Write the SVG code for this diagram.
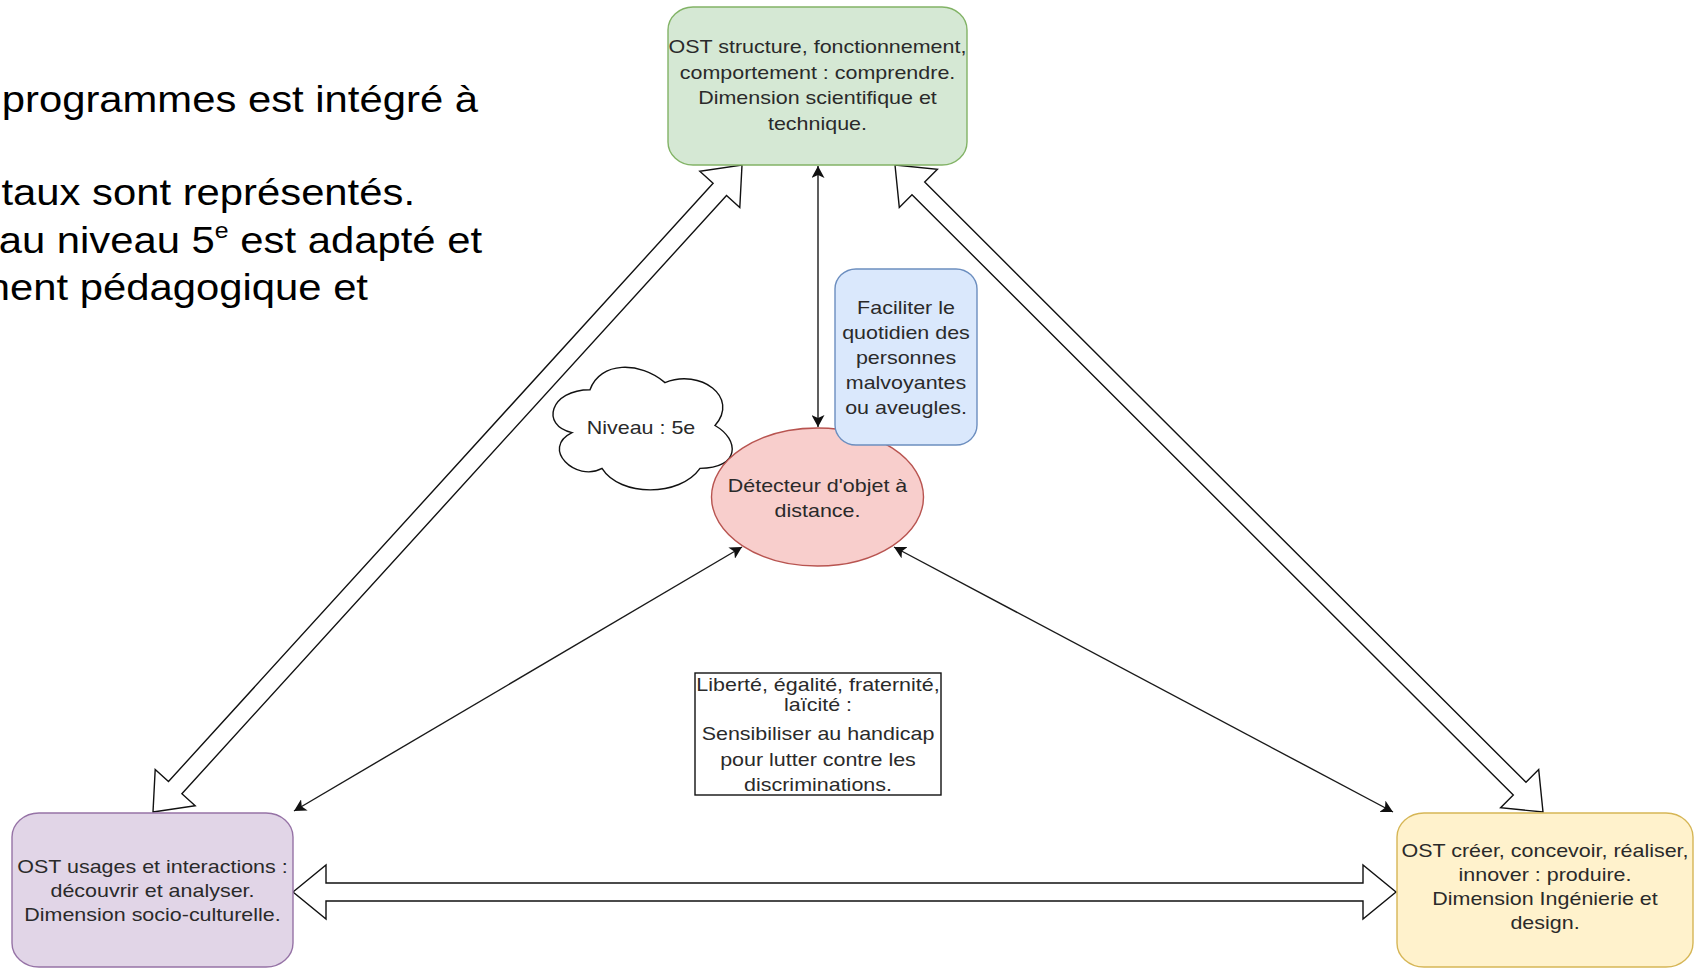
<svg xmlns="http://www.w3.org/2000/svg" width="1698" height="969" viewBox="0 0 1698 969">
  <style>
    .lbl { font-family: "Liberation Sans", Arial, sans-serif; font-size: 19px; fill: #2a2a2a; text-anchor: middle; }
    .para { font-family: "Liberation Sans", Arial, sans-serif; font-size: 37px; fill: #000; text-anchor: end; }
    .block { fill: #fff; stroke: #111; stroke-width: 1.4; stroke-linejoin: miter; }
    .thin { fill: none; stroke: #1a1a1a; stroke-width: 1.4; marker-start: url(#head); marker-end: url(#head); }
  </style>
  <defs>
    <marker id="head" viewBox="0 0 13 13" refX="12" refY="6.5" markerWidth="13" markerHeight="13" markerUnits="userSpaceOnUse" orient="auto-start-reverse">
      <path d="M0,0 L12,6.5 L0,13 L3,6.5 Z" fill="#111"/>
    </marker>
  </defs>

  <rect width="1698" height="969" fill="#fff"/>

  <!-- paragraph text running off the left edge -->
  <g id="paragraph">
    <text class="para" transform="translate(478 0) scale(1.13 1)" x="0" y="112">programmes est intégré à</text>
    <text class="para" transform="translate(415 0) scale(1.13 1)" x="0" y="205">taux sont représentés.</text>
    <text class="para" transform="translate(482 0) scale(1.13 1)" x="0" y="253">au niveau 5<tspan font-size="22" dy="-15">e</tspan><tspan dy="15"> est adapté et</tspan></text>
    <text class="para" transform="translate(368 0) scale(1.13 1)" x="0" y="300">nent pédagogique et</text>
  </g>

  <!-- connectors -->
  <g id="connectors">
    <!-- double block arrows between the three OST boxes -->
    <polygon class="block" points="153,812 195.2,805.8 181.9,793.7 726.5,195.5 739.8,207.6 742,165 699.8,171.2 713.1,183.3 168.5,781.5 155.2,769.4"/>
    <polygon class="block" points="895,165 899.3,207.4 912,194.7 1513.3,795.1 1500.6,807.8 1543,812 1538.7,769.6 1526,782.3 924.7,182 937.4,169.2"/>
    <polygon class="block" points="293,892 326,865 326,883 1363,883 1363,865 1396,892 1363,919 1363,901 326,901 326,919"/>
    <!-- thin double arrows around the central object -->
    <line class="thin" x1="818" y1="166" x2="818" y2="427"/>
    <line class="thin" x1="742" y1="547" x2="294" y2="811"/>
    <line class="thin" x1="894" y1="547" x2="1393" y2="812"/>
  </g>

  <g id="niveau">
    <path d="M590,389.75 C550,389.75 540,425.5 572,432.65 C540,448.38 576,482.7 602,468.4 C620,497 680,497 700,468.4 C740,468.4 740,439.8 715,425.5 C740,396.9 700,368.3 665,382.6 C640,361.15 600,361.15 590,389.75 Z" fill="#fff" stroke="#111" stroke-width="1.4"/>
    <text class="lbl" transform="translate(641 0) scale(1.13 1)" x="0" y="434">Niveau : 5e</text>
  </g>

  <g id="detecteur">
    <ellipse cx="817.5" cy="497" rx="106" ry="69" fill="#f8cecc" stroke="#b85450" stroke-width="1.4"/>
    <text class="lbl" transform="translate(817.5 0) scale(1.13 1)"><tspan x="0" y="492">Détecteur d'objet à</tspan><tspan x="0" y="517">distance.</tspan></text>
  </g>

  <g id="objectif">
    <rect x="835" y="269" width="142" height="176" rx="21" ry="20" fill="#dae8fc" stroke="#6c8ebf" stroke-width="1.4"/>
    <text class="lbl" transform="translate(906 0) scale(1.13 1)"><tspan x="0" y="314">Faciliter le</tspan><tspan x="0" y="339">quotidien des</tspan><tspan x="0" y="364">personnes</tspan><tspan x="0" y="389">malvoyantes</tspan><tspan x="0" y="414">ou aveugles.</tspan></text>
  </g>

  <g id="ost-comprendre">
    <rect x="668" y="7" width="299" height="158" rx="25" ry="23" fill="#d5e8d4" stroke="#82b366" stroke-width="1.4"/>
    <text class="lbl" transform="translate(817.5 0) scale(1.13 1)"><tspan x="0" y="53.5">OST structure, fonctionnement,</tspan><tspan x="0" y="79">comportement : comprendre.</tspan><tspan x="0" y="104.5">Dimension scientifique et</tspan><tspan x="0" y="130">technique.</tspan></text>
  </g>

  <g id="valeurs">
    <rect x="695" y="673" width="246" height="122" fill="#fff" stroke="#111" stroke-width="1.4"/>
    <text class="lbl" transform="translate(818 0) scale(1.13 1)"><tspan x="0" y="691">Liberté, égalité, fraternité,</tspan><tspan x="0" y="711">laïcité :</tspan><tspan x="0" y="740">Sensibiliser au handicap</tspan><tspan x="0" y="766">pour lutter contre les</tspan><tspan x="0" y="791">discriminations.</tspan></text>
  </g>

  <g id="ost-analyser">
    <rect x="12" y="813" width="281" height="154" rx="27" ry="24" fill="#e1d5e7" stroke="#9673a6" stroke-width="1.4"/>
    <text class="lbl" transform="translate(152.5 0) scale(1.13 1)"><tspan x="0" y="873">OST usages et interactions :</tspan><tspan x="0" y="897">découvrir et analyser.</tspan><tspan x="0" y="921">Dimension socio-culturelle.</tspan></text>
  </g>

  <g id="ost-produire">
    <rect x="1397" y="813" width="296" height="154" rx="27" ry="24" fill="#fff2cc" stroke="#d6b656" stroke-width="1.4"/>
    <text class="lbl" transform="translate(1545 0) scale(1.13 1)"><tspan x="0" y="857">OST créer, concevoir, réaliser,</tspan><tspan x="0" y="881">innover : produire.</tspan><tspan x="0" y="905">Dimension Ingénierie et</tspan><tspan x="0" y="929">design.</tspan></text>
  </g>
</svg>
